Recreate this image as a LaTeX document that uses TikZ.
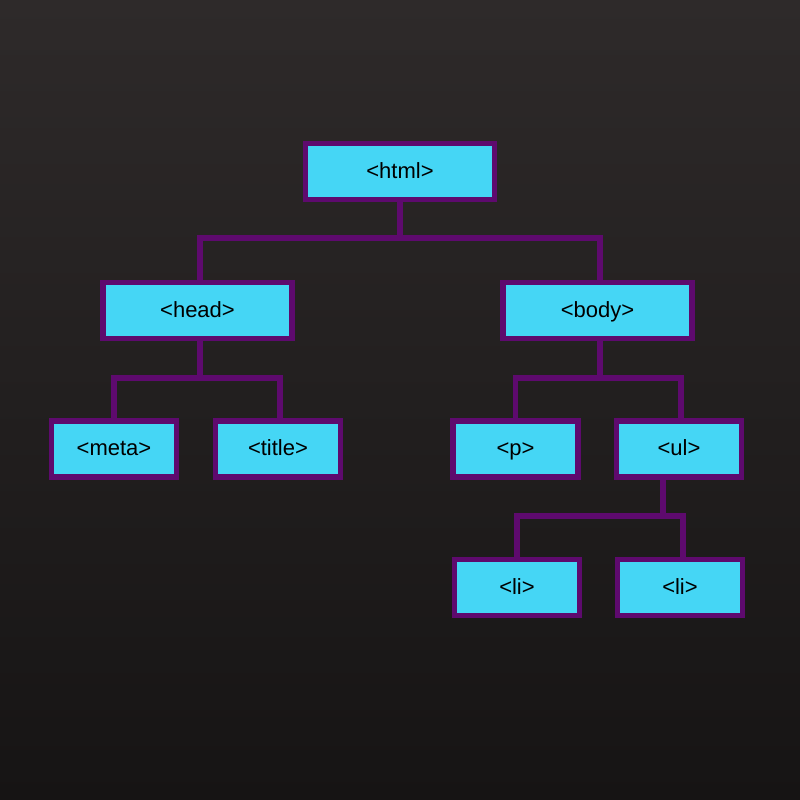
\documentclass[tikz,border=0pt]{standalone}
\usepackage{fontspec}
\setmainfont{Liberation Sans}
\usepackage{tikz}
\usetikzlibrary{calc}
\definecolor{tagfill}{RGB}{69,214,245}
\definecolor{tagline}{RGB}{94,10,110}
\definecolor{bgtop}{RGB}{46,42,42}
\definecolor{bgbottom}{RGB}{22,20,20}
\tikzset{tag/.style={draw=tagline, fill=tagfill, line width=2.6pt, inner sep=0, minimum height=28pt, text height=7.5pt, text depth=1pt, font=\fontsize{11}{13}\selectfont}}
\tikzset{wide tag/.style={tag, minimum width=94.5pt}}
\tikzset{small tag/.style={tag, minimum width=62.5pt}}
\tikzset{link/.style={draw=tagline, line width=2.6pt}}

\begin{document}
\begin{tikzpicture}[x=0.5pt, y=-0.5pt]
  \shade[top color=bgtop, bottom color=bgbottom] (0,0) rectangle (800,800);
  \useasboundingbox (0,0) rectangle (800,800);

  \node[wide tag] at (400, 171.5) (html) {<html>};
  \node[wide tag] at (197.5, 310.5) (head) {<head>};
  \node[wide tag] at (597.5, 310.5) (body) {<body>};

  \node[small tag] at (114, 449) (meta) {<meta>};
  \node[small tag] at (278, 449) (title) {<title>};
  \node[small tag] at (515.5, 449) (p) {<p>};
  \node[small tag] at (679, 449) (ul) {<ul>};

  \node[small tag] at (517, 587.5) (li1) {<li>};
  \node[small tag] at (680, 587.5) (li2) {<li>};

  \coordinate (top fork) at (400, 238);
  \coordinate (head fork) at (200, 378);
  \coordinate (body fork) at (600, 378);
  \coordinate (ul fork) at (663, 516);

    \draw[link] (html.south) -- (top fork);
    \draw[link] ([xshift=1.25pt]head.north) |- (top fork) -| ([xshift=1.25pt]body.north);

    \draw[link] ([xshift=1.25pt]head.south) -- (head fork);
    \draw[link] (meta.north) |- (head fork) -| ([xshift=1pt]title.north);

    \draw[link] ([xshift=1.25pt]body.south) -- (body fork);
    \draw[link] (p.north) |- (body fork) -| ([xshift=1pt]ul.north);

    \draw[link] ([xshift=-8pt]ul.south) -- (ul fork);
    \draw[link] (li1.north) |- (ul fork) -| ([xshift=1.5pt]li2.north);
\end{tikzpicture}
\end{document}
